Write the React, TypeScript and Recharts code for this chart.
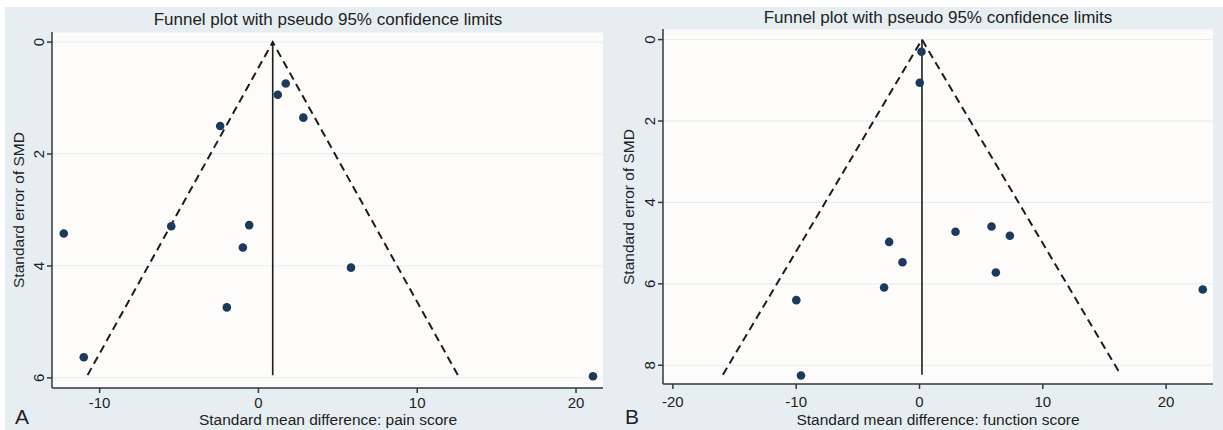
import React from 'react';
import { ScatterChart, Scatter, XAxis, YAxis, CartesianGrid } from 'recharts';

// panel A: pain score
const painEffect = [1.22, 1.72, 2.83, -2.41, -12.26, -5.49, -0.58, -0.98, 5.83, -1.99, -11.0, 21.07];
const painSe = [0.94, 0.74, 1.35, 1.5, 3.42, 3.29, 3.27, 3.67, 4.03, 4.74, 5.63, 5.97];
const painFunnelX = [-10.76, 0.9, 12.56];
const painFunnelY = [5.95, 0, 5.95];
const painCenterX = [0.9, 0.9];
const painCenterY = [0, 5.95];
const painXTicks = [-10, 0, 10, 20];
const painYTicks = [0, 2, 4, 6];

// panel B: function score
const funcEffect = [0.16, 0.02, 2.92, 5.84, 7.33, -2.46, -1.38, 6.19, -2.87, -9.99, -9.61, 22.97];
const funcSe = [0.3, 1.06, 4.72, 4.59, 4.82, 4.97, 5.47, 5.72, 6.09, 6.4, 8.25, 6.14];
const funcFunnelX = [-15.94, 0.2, 16.31];
const funcFunnelY = [8.23, 0, 8.23];
const funcCenterX = [0.2, 0.2];
const funcCenterY = [0, 8.23];
const funcXTicks = [-20, -10, 0, 10, 20];
const funcYTicks = [0, 2, 4, 6, 8];

const pairs = (xs: number[], ys: number[]) => xs.map((x, i) => ({ x, y: ys[i] }));

const FONT = '"Liberation Sans", Arial, Helvetica, sans-serif';
const AXIS = '#2e3a40';
const DOT = '#1c3b5c';
const BG = '#e7eef2';

const Dot = (p: any) => <circle cx={p.cx} cy={p.cy} r={4.3} fill={DOT} />;
const NoDot = () => <g />;

const RotTick = (p: any) => (
  <text
    transform={`translate(${p.x - 1},${p.y}) rotate(-90)`}
    textAnchor="middle"
    fontSize={15}
    fill="#222"
    fontFamily={FONT}
  >
    {p.payload.value}
  </text>
);

type PanelProps = {
  width: number;
  margin: { top: number; right: number; bottom: number; left: number };
  xDomain: [number, number];
  yDomain: [number, number];
  xTicks: number[];
  yTicks: number[];
  points: { x: number; y: number }[];
  funnel: { x: number; y: number }[];
  center: { x: number; y: number }[];
  tickMargin: number;
};

function Panel(props: PanelProps) {
  return (
    <ScatterChart width={props.width} height={430} margin={props.margin}>
      <CartesianGrid vertical={false} stroke="#e6ecef" fill="#fdfcfa" fillOpacity={1} />
      <XAxis
        type="number"
        dataKey="x"
        domain={props.xDomain}
        ticks={props.xTicks}
        allowDataOverflow
        height={30}
        tickSize={5}
        tickMargin={props.tickMargin}
        axisLine={{ stroke: AXIS, strokeWidth: 1.5 }}
        tickLine={{ stroke: AXIS, strokeWidth: 1.5 }}
        tick={{ fontSize: 15, fill: '#222', fontFamily: FONT }}
      />
      <YAxis
        type="number"
        dataKey="y"
        reversed
        domain={props.yDomain}
        ticks={props.yTicks}
        allowDataOverflow
        width={40}
        tickSize={5}
        axisLine={{ stroke: AXIS, strokeWidth: 1.5 }}
        tickLine={{ stroke: AXIS, strokeWidth: 1.5 }}
        tick={RotTick}
      />
      <Scatter
        data={props.funnel}
        line={{ stroke: '#1e1e1e', strokeWidth: 2, strokeDasharray: '8 5' }}
        shape={NoDot}
        isAnimationActive={false}
      />
      <Scatter
        data={props.center}
        line={{ stroke: '#1e1e1e', strokeWidth: 1.6 }}
        shape={NoDot}
        isAnimationActive={false}
      />
      <Scatter data={props.points} shape={Dot} isAnimationActive={false} />
    </ScatterChart>
  );
}

export default function App() {
  return (
    <div style={{ position: 'fixed', left: 0, top: 0, width: 1223, height: 430, background: '#fff' }}>
      <div style={{ position: 'absolute', left: 5, top: 7, width: 1218, height: 423, background: BG }} />
      <div style={{ position: 'absolute', left: 0, top: 0 }}>
        <Panel
          width={610}
          margin={{ top: 32, right: 7, bottom: 12, left: 12 }}
          xDomain={[-13, 21.7]}
          yDomain={[-0.18, 6.18]}
          xTicks={painXTicks}
          yTicks={painYTicks}
          points={pairs(painEffect, painSe)}
          funnel={pairs(painFunnelX, painFunnelY)}
          center={pairs(painCenterX, painCenterY)}
          tickMargin={4}
        />
      </div>
      <div style={{ position: 'absolute', left: 610, top: 0 }}>
        <Panel
          width={613}
          margin={{ top: 29, right: 10, bottom: 16, left: 13 }}
          xDomain={[-20.8, 23.8]}
          yDomain={[-0.26, 8.46]}
          xTicks={funcXTicks}
          yTicks={funcYTicks}
          points={pairs(funcEffect, funcSe)}
          funnel={pairs(funcFunnelX, funcFunnelY)}
          center={pairs(funcCenterX, funcCenterY)}
          tickMargin={7}
        />
      </div>
      <svg
        width={1223}
        height={430}
        style={{ position: 'absolute', left: 0, top: 0, pointerEvents: 'none' }}
        fontFamily={FONT}
        fill="#222"
      >
        <text x={328} y={25} fontSize={17} textAnchor="middle">Funnel plot with pseudo 95% confidence limits</text>
        <text x={938} y={23} fontSize={17} textAnchor="middle">Funnel plot with pseudo 95% confidence limits</text>
        <text transform="translate(24,210) rotate(-90)" fontSize={15.5} textAnchor="middle">Standard error of SMD</text>
        <text transform="translate(634,207) rotate(-90)" fontSize={15.5} textAnchor="middle">Standard error of SMD</text>
        <text x={328} y={425} fontSize={15.5} textAnchor="middle">Standard mean difference: pain score</text>
        <text x={938} y={425} fontSize={15.5} textAnchor="middle">Standard mean difference: function score</text>
        <text x={15} y={424} fontSize={21}>A</text>
        <text x={625} y={424} fontSize={21}>B</text>
      </svg>
    </div>
  );
}
